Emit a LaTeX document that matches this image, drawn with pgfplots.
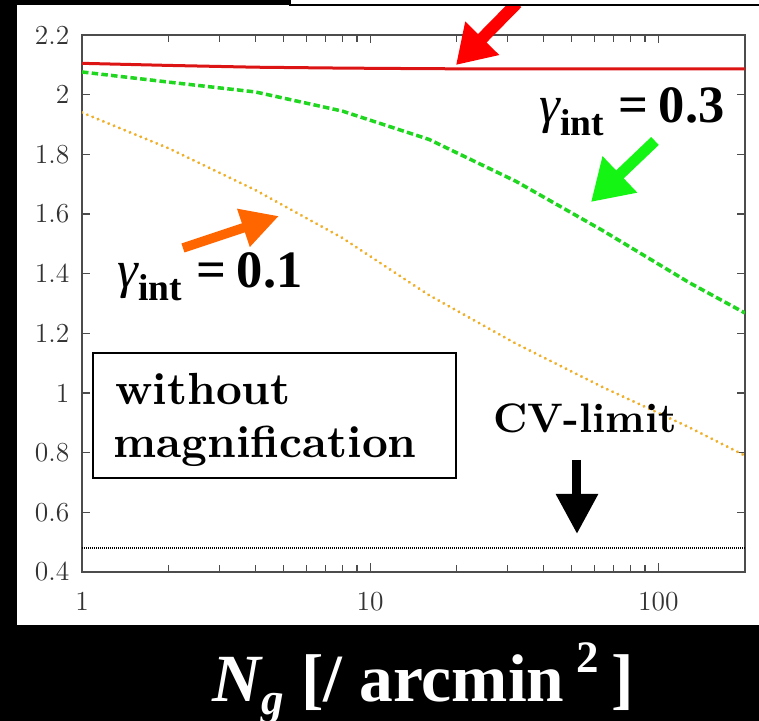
\documentclass[border=0pt]{standalone}
\usepackage{pgfplots}
\pgfplotsset{compat=1.18}
\usepackage{fontspec}
\usetikzlibrary{arrows.meta}
\newfontfamily\tnr{Liberation Serif}
\newfontfamily\lmbx{lmroman10-bold.otf}
\definecolor{redline}{RGB}{220,20,20}
\definecolor{greenline}{RGB}{30,215,30}
\definecolor{orangeline}{RGB}{240,175,40}
\definecolor{arrowred}{RGB}{255,0,0}
\definecolor{arrowgreen}{RGB}{20,245,20}
\definecolor{arroworange}{RGB}{255,102,0}
\begin{document}
\begin{tikzpicture}
\begin{scope}[x=0.4pt,y=0.4pt]
\fill[black] (0,0) rectangle (759,721);
\fill[white] (17,96) rectangle (759,716);
\end{scope}
\begin{axis}[
  at={(32.8pt,59.6pt)}, anchor=south west,
  scale only axis, width=265.2pt, height=214.8pt,
  xmode=log, xmin=1, xmax=200, ymin=0.4, ymax=2.2,
  xtick={1,10,100}, xticklabels={1,10,100},
  ytick={0.4,0.6,0.8,1,1.2,1.4,1.6,1.8,2,2.2},
  yticklabels={0.4,0.6,0.8,1,1.2,1.4,1.6,1.8,2,2.2},
  tick align=inside, major tick length=3.4pt, minor tick length=2.8pt,
  axis line style={black!70, line width=0.6pt},
  every tick/.style={black!70, line width=0.5pt},
  ticklabel style={font=\fontsize{11}{13}\selectfont, text=black!80},
  yticklabel style={xshift=-1.5pt},
  xticklabel style={yshift=-4.5pt},
]
\addplot[redline, line width=1.2pt] coordinates {
 (1,2.105)(2,2.098)(4,2.092)(8,2.089)(16,2.087)(32,2.086)(64,2.086)(128,2.086)(200,2.086)};
\addplot[greenline, line width=1.4pt, dash pattern=on 2.6pt off 1.3pt] coordinates {
 (1,2.076)(2,2.042)(4,2.009)(8,1.945)(16,1.85)(32,1.71)(64,1.545)(128,1.37)(200,1.268)};
\addplot[orangeline, line width=1.3pt, line cap=round, dash pattern=on 0.01pt off 2.3pt] coordinates {
 (1,1.94)(2,1.82)(4,1.68)(8,1.52)(16,1.328)(32,1.166)(64,1.02)(128,0.885)(200,0.79)};
\addplot[black, line width=0.8pt, dash pattern=on 0.4pt off 0.4pt] coordinates {
 (1,0.48)(10,0.48)(100,0.48)(200,0.48)};
\end{axis}
\begin{scope}[x=0.4pt,y=0.4pt]
\draw[arrowred, line width=4.8pt, -{Triangle[length=15pt, width=18pt]}] (517,718) -- (456,656);
\draw[arrowgreen, line width=4.4pt, -{Triangle[length=16pt, width=19pt]}] (655,580) -- (591,519);
\draw[arroworange, line width=3.8pt, -{Triangle[length=15pt, width=15pt]}] (183,473) -- (279,505);
\draw[black, line width=3.6pt, -{Triangle[length=16pt, width=16pt]}] (577,261) -- (577,187);
\filldraw[fill=white, draw=black, line width=0.5pt] (290,731) rectangle (775,716);
\node[anchor=base west, inner sep=0pt, font=\tnr\bfseries\fontsize{21}{24}\selectfont] at (539,598)
 {{\mdseries\itshape γ}\raisebox{-5pt}{\fontsize{15}{15}\selectfont int}\hspace{6pt}=\hspace{4pt}0.3};
\node[anchor=base west, inner sep=0pt, font=\tnr\bfseries\fontsize{21}{24}\selectfont] at (117,433)
 {{\mdseries\itshape γ}\raisebox{-5pt}{\fontsize{15}{15}\selectfont int}\hspace{6pt}=\hspace{4pt}0.1};
\draw[black, line width=0.8pt] (93,368) rectangle (456,243);
\node[anchor=base west, inner sep=0pt, font=\lmbx\fontsize{18}{21}\selectfont] at (115,316) {without};
\node[anchor=base west, inner sep=0pt, font=\lmbx\fontsize{16.5}{19}\selectfont] at (493,288) {CV-limit};
\node[anchor=base west, inner sep=0pt, font=\lmbx\fontsize{18}{21}\selectfont] at (113,263) {magnification};
\node[anchor=base west, inner sep=0pt, text=white, font=\tnr\bfseries\fontsize{27}{30}\selectfont] at (212,19)
 {{\itshape N}\raisebox{-5pt}{\fontsize{18}{18}\selectfont\itshape g}\hspace{7pt}[/ arcmin\hspace{5pt}\raisebox{11.6pt}{\fontsize{18}{18}\selectfont 2}\hspace{5pt}]};
\end{scope}
\pgfresetboundingbox
\path[use as bounding box] (0,0) rectangle (303.6pt,288.4pt);
\end{tikzpicture}
\end{document}
